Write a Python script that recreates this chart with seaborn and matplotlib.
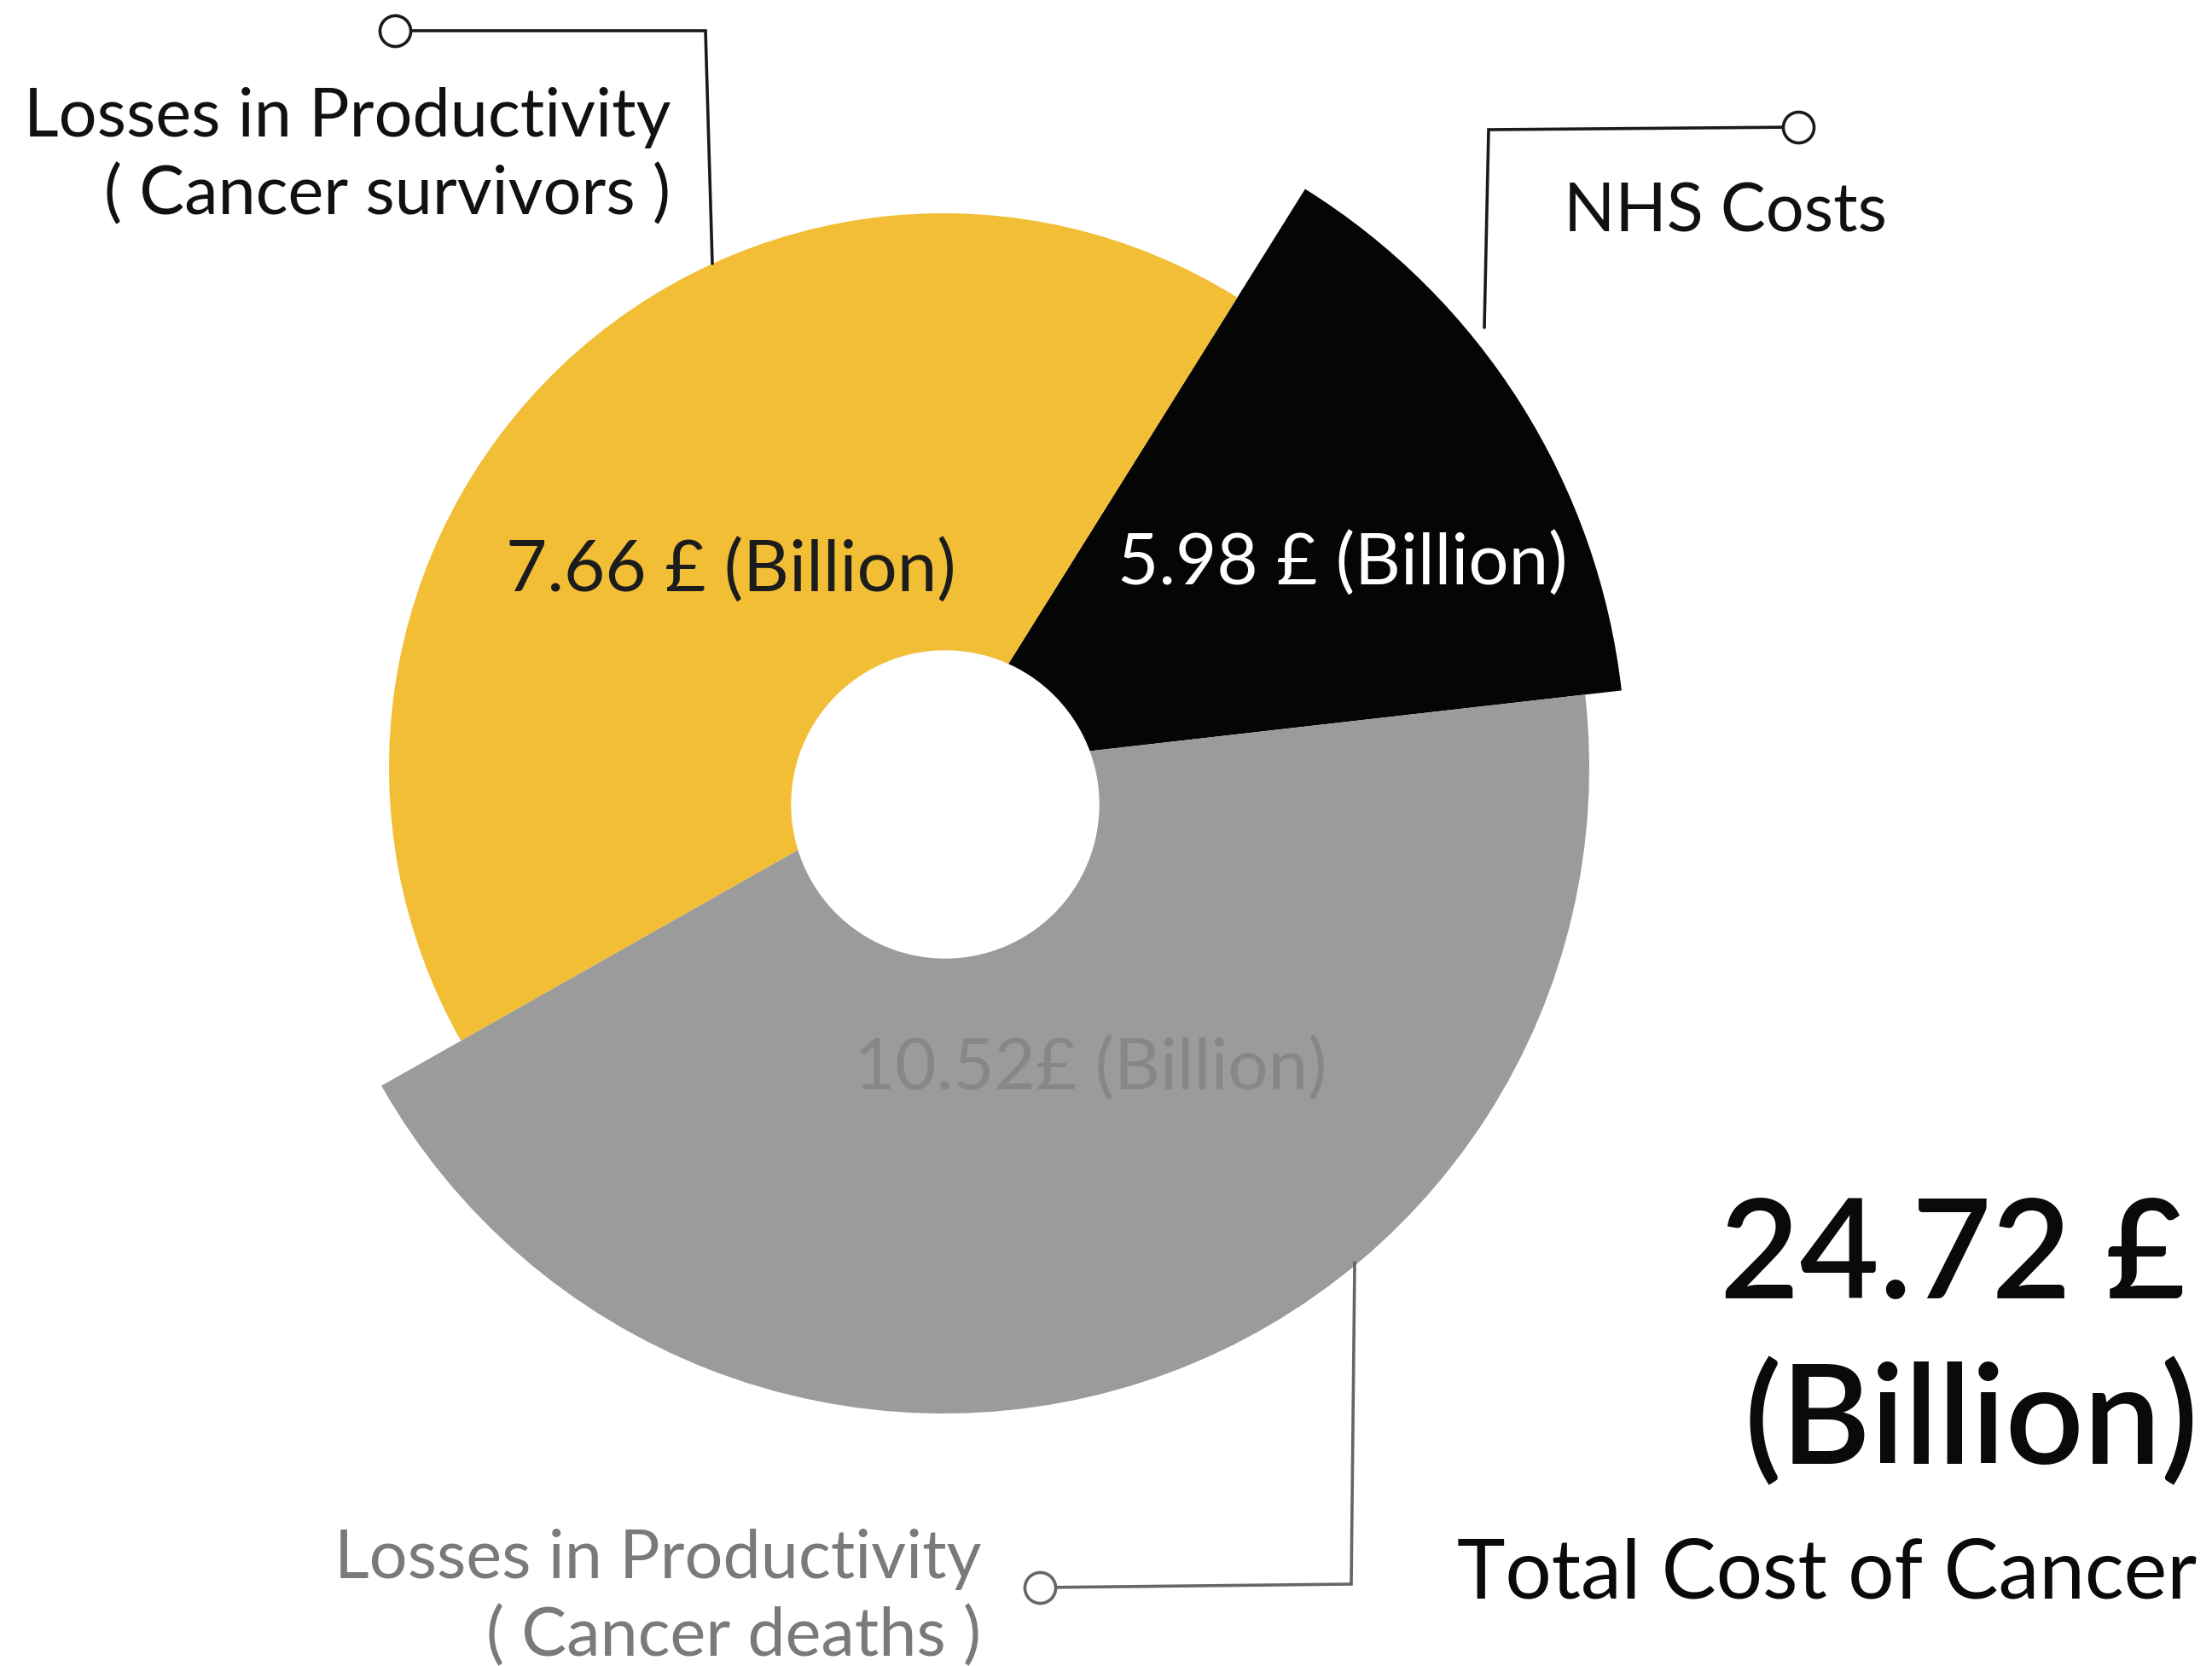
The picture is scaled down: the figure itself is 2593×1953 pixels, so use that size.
import numpy as np
import matplotlib
matplotlib.use("Agg")
from matplotlib import pyplot as plt
from matplotlib.patches import Circle
import seaborn as sns

sns.set_theme(style='white')
plt.rcParams['font.family'] = ['Lato', 'DejaVu Sans']

# slices, going counter-clockwise from the NHS slice
categories = ['NHS Costs', 'Losses in Productivity\n( Cancer survivors )',
              'Losses in Productivity\n( Cancer deaths )']
values = [5.98, 7.66, 10.52]
value_labels = ['5.98 £ (Billion)', '7.66 £ (Billion)', '10.52£ (Billion)']
span_deg = [51.5, 151.5, 157]      # angular size of each slice as drawn
outer_r = [800, 650, 757]          # outer radius of each slice as drawn
total_lines = ['24.72 £', '(Billion)']
total_caption = 'Total Cost of Cancer'

colors = ['#050505', '#F2BE35', '#9B9B9B']
start_deg = 6.5

W, H = 2593, 1953
fig = plt.figure(figsize=(W / 100, H / 100), dpi=100)
fig.patch.set_facecolor('white')

# polar axes for the wedges, centre at (1106, 900) px
cx, cy, rmax = 1106, 900, 850
ax = fig.add_axes([(cx - rmax) / W, 1 - (cy + rmax) / H, 2 * rmax / W, 2 * rmax / H],
                  projection='polar')
starts = start_deg + np.concatenate([[0], np.cumsum(span_deg)[:-1]])
centres = np.deg2rad(starts + np.array(span_deg) / 2)
ax.bar(centres, outer_r, width=np.deg2rad(span_deg), bottom=0,
       color=colors, linewidth=0, align='center')
ax.set_ylim(0, rmax)
ax.axis('off')

# overlay in pixel coordinates for hole, labels and leader lines
ov = fig.add_axes([0, 0, 1, 1])
ov.set_xlim(0, W)
ov.set_ylim(H, 0)
ov.axis('off')
ov.patch.set_alpha(0)

ov.add_patch(Circle((1108, 943), 180, color='white', zorder=3))

# values inside wedges
ov.text(1574, 662, value_labels[0], color='white', fontsize=60,
        ha='center', va='center')
ov.text(857, 670, value_labels[1], color='#1c1c1c', fontsize=60,
        ha='center', va='center')
ov.text(1278, 1254, value_labels[2], color='#878787', fontsize=60,
        ha='center', va='center')

# category labels
ov.text(1833, 250, categories[0], color='#111111', fontsize=57, ha='left', va='center')
ov.text(786, 184, categories[1], color='#111111', fontsize=57, ha='right', va='center',
        multialignment='right', linespacing=1.3)
ov.text(1150, 1874, categories[2], color='#7a7a7a', fontsize=57, ha='right', va='center',
        multialignment='right', linespacing=1.3)

# leader lines
line_kw = dict(lw=2.6, solid_joinstyle='miter')
ov.plot([835, 827, 463], [309, 36, 36], color='#1a1a1a', **line_kw)
ov.plot([463], [36], 'o', ms=26, mfc='white', mec='#1a1a1a', mew=2.6)
ov.plot([1740, 1745, 2108], [384, 152, 149], color='#1a1a1a', **line_kw)
ov.plot([2108], [149], 'o', ms=26, mfc='white', mec='#1a1a1a', mew=2.6)
ov.plot([1588, 1584, 1219], [1480, 1857, 1861], color='#666666', **line_kw)
ov.plot([1219], [1861], 'o', ms=26, mfc='white', mec='#666666', mew=2.6)

# total
ov.text(2562, 1522, total_lines[0], color='#0a0a0a', fontsize=116, fontweight='semibold',
        ha='right', va='baseline')
ov.text(2577, 1716, total_lines[1], color='#0a0a0a', fontsize=116, fontweight='semibold',
        ha='right', va='baseline')
ov.text(2575, 1846, total_caption, color='#0a0a0a', fontsize=69,
        ha='right', va='center')

fig.savefig('out.png', dpi=100, facecolor='white')
